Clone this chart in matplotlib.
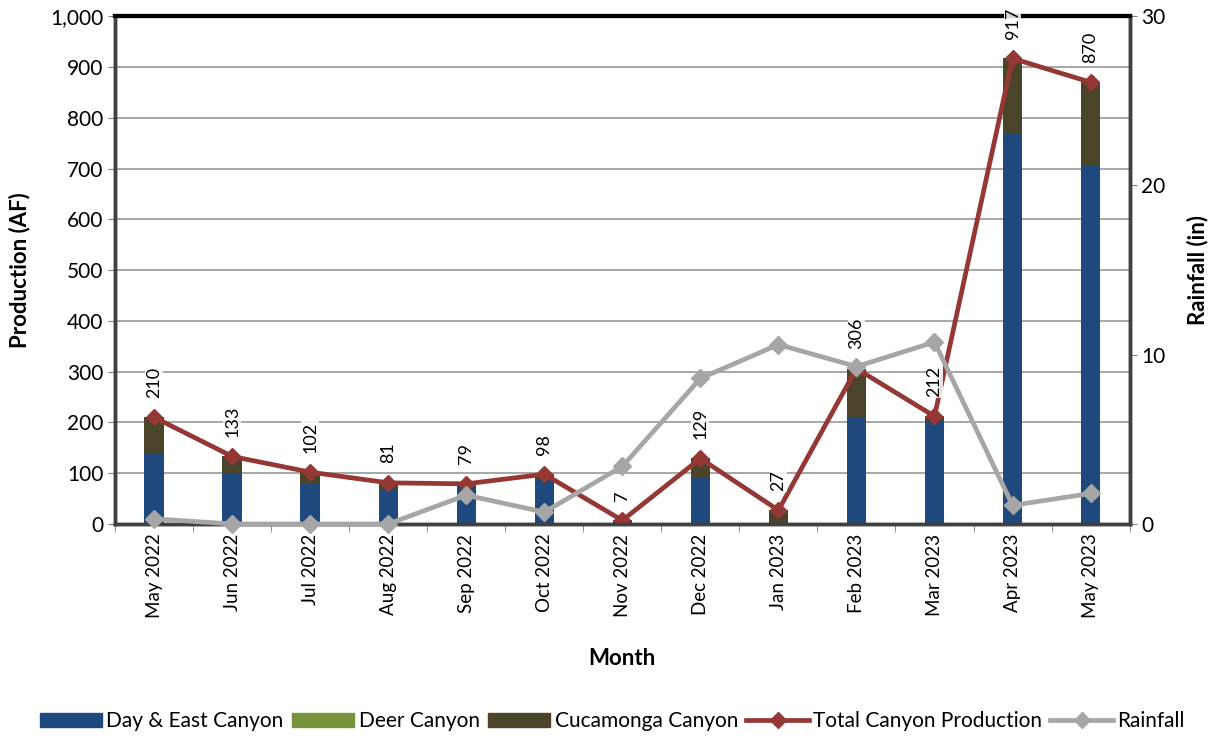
import matplotlib
matplotlib.use("Agg")
import matplotlib.pyplot as plt
import numpy as np
from matplotlib.patches import Patch
from matplotlib.lines import Line2D

months = ["May 2022", "Jun 2022", "Jul 2022", "Aug 2022", "Sep 2022", "Oct 2022",
          "Nov 2022", "Dec 2022", "Jan 2023", "Feb 2023", "Mar 2023", "Apr 2023", "May 2023"]
day_east = [140, 100, 78, 68, 75, 88, 5, 92, 0, 208, 200, 770, 705]
deer = [0, 0, 0, 0, 0, 0, 0, 0, 0, 0, 0, 0, 0]
cucamonga = [70, 33, 24, 13, 4, 10, 2, 37, 27, 98, 12, 147, 165]
total = [210, 133, 102, 81, 79, 98, 7, 129, 27, 306, 212, 917, 870]
rainfall = [0.3, 0.0, 0.0, 0.0, 1.7, 0.7, 3.4, 8.6, 10.6, 9.3, 10.75, 1.1, 1.8]

plt.rcParams['font.family'] = ['Lato', 'DejaVu Sans']

c_blue = "#1F497D"
c_green = "#77933C"
c_olive = "#4A452A"
c_red = "#953735"
c_grey = "#A6A6A6"

fig = plt.figure(figsize=(12.12, 7.39), dpi=100)
ax = fig.add_axes([0.095, 0.291, 0.837, 0.687])
ax2 = ax.twinx()

x = np.arange(len(months))
w = 0.25
de = np.array(day_east)
dr = np.array(deer)
cu = np.array(cucamonga)
ax.bar(x, de, w, color=c_blue, zorder=2)
ax.bar(x, dr, w, bottom=de, color=c_green, zorder=2)
ax.bar(x, cu, w, bottom=de + dr, color=c_olive, zorder=2)
ax.plot(x, total, color=c_red, lw=3.4, marker='D', ms=8, zorder=4)

ax2.plot(x, rainfall, color=c_grey, lw=3.4, marker='D', ms=9, zorder=3, clip_on=False)

# data labels drawn on the top axes (in primary data coordinates)
for xi, t in zip(x, total):
    ax2.annotate(f"{t}", (xi, t), xycoords=ax.transData, xytext=(0, 14),
                 textcoords='offset points', rotation=90, ha='center', va='bottom',
                 fontsize=13,
                 bbox=dict(boxstyle='square,pad=0.05', fc='white', ec='none', alpha=0.85),
                 annotation_clip=False, zorder=6)

ax.set_xlim(-0.5, len(months) - 0.5)
ax.set_ylim(0, 1000)
ax2.set_ylim(0, 30)
ax.set_yticks(np.arange(0, 1001, 100))
ax.set_yticklabels([f"{v:,}" for v in range(0, 1001, 100)], fontsize=15)
ax2.set_yticks([0, 10, 20, 30])
ax2.set_yticklabels(["0", "10", "20", "30"], fontsize=15)
ax.set_xticks(x)
ax.set_xticklabels(months, rotation=90, fontsize=13.5)
ax.set_xticks(np.arange(-0.5, len(months), 1), minor=True)
ax.tick_params(axis='x', which='major', length=0, pad=7)
ax.tick_params(axis='x', which='minor', length=6, color='#808080', direction='out')
ax.tick_params(axis='y', length=5, color='#808080')
ax2.tick_params(axis='y', length=5, color='#808080')

ax.grid(axis='y', color='#A0A0A0', lw=1.3, zorder=0)
ax.set_axisbelow(True)

for a in (ax, ax2):
    a.spines['top'].set_linewidth(3)
    a.spines['top'].set_color('black')
    a.spines['bottom'].set_linewidth(2.5)
    a.spines['bottom'].set_color('#404040')
    a.spines['left'].set_linewidth(2.5)
    a.spines['left'].set_color('#404040')
    a.spines['right'].set_linewidth(2.5)
    a.spines['right'].set_color('#404040')

ax.set_ylabel("Production (AF)", fontsize=16, fontweight='bold')
ax.yaxis.set_label_coords(-0.084, 0.5)
ax2.set_ylabel("Rainfall (in)", fontsize=16, fontweight='bold', rotation=90)
ax2.yaxis.set_label_coords(1.056, 0.5)
ax.set_xlabel("Month", fontsize=16, fontweight='bold')
ax.xaxis.set_label_coords(0.5, -0.245)

handles = [Patch(color=c_blue), Patch(color=c_green), Patch(color=c_olive),
           Line2D([], [], color=c_red, lw=3.4, marker='D', ms=8),
           Line2D([], [], color=c_grey, lw=3.4, marker='D', ms=8)]
labels = ["Day & East Canyon", "Deer Canyon", "Cucamonga Canyon",
          "Total Canyon Production", "Rainfall"]
fig.legend(handles, labels, loc='center', bbox_to_anchor=(0.505, 0.024), ncol=5,
           frameon=False, fontsize=15, handlelength=3.0, handletextpad=0.2,
           columnspacing=0.4)

fig.savefig("out.png", dpi=100)
